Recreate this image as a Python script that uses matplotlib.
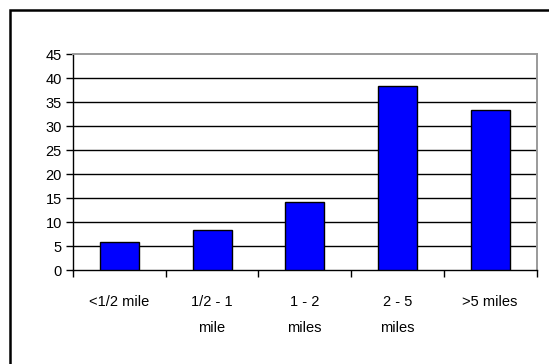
import matplotlib
matplotlib.use("Agg")
import matplotlib.pyplot as plt
from matplotlib.patches import Rectangle

# Distance travelled, share of respondents (%)
categories = ["<1/2 mile", "1/2 - 1\nmile", "1 - 2\nmiles", "2 - 5\nmiles", ">5 miles"]
values = [5.9, 8.4, 14.2, 38.4, 33.4]
y_ticks = [0, 5, 10, 15, 20, 25, 30, 35, 40, 45]

plt.rcParams["font.family"] = ["Liberation Sans", "DejaVu Sans"]

W, H = 549, 364
fig = plt.figure(figsize=(W / 100, H / 100), dpi=100)
fig.patch.set_facecolor("white")

# Outer frame (open on the right and bottom edges of the image)
frame = Rectangle((9.5 / W, -0.05), 1.2, 1 - 10 / H + 0.05,
                  transform=fig.transFigure, fill=False,
                  edgecolor="black", linewidth=1.8)
fig.patches.append(frame)

left, right = 73 / W, 536.5 / W
bottom, top = 1 - 270 / H, 1 - 54 / H
ax = fig.add_axes([left, bottom, right - left, top - bottom])

x = list(range(len(categories)))
ax.bar(x, values, width=0.42, color="#0000FF", edgecolor="black",
       linewidth=1.0, zorder=3)

ax.set_xlim(-0.5, len(categories) - 0.5)
ax.set_ylim(0, 45)
ax.set_yticks(y_ticks)
ax.set_yticklabels([str(v) for v in y_ticks], fontsize=10.5)

# Horizontal gridlines
for v in y_ticks[1:-1]:
    ax.axhline(v, color="black", linewidth=1.0, zorder=1)

# Category boundaries as tick marks, labels centred on categories
ax.set_xticks([i - 0.5 for i in range(len(categories) + 1)])
ax.set_xticklabels([])
ax.set_xticks(x, minor=True)
ax.set_xticklabels(categories, minor=True, fontsize=10.5, linespacing=2.1)
ax.tick_params(axis="x", which="major", direction="out", length=5,
               width=1.0, color="black")
ax.tick_params(axis="x", which="minor", length=0, pad=18)
ax.tick_params(axis="y", direction="out", length=5, width=1.0,
               color="black", pad=3)

for side in ("top", "right"):
    ax.spines[side].set_color("#9a9a9a")
    ax.spines[side].set_linewidth(1.4)
for side in ("left", "bottom"):
    ax.spines[side].set_color("black")
    ax.spines[side].set_linewidth(1.0)

fig.savefig("out.png", dpi=100, facecolor="white")
